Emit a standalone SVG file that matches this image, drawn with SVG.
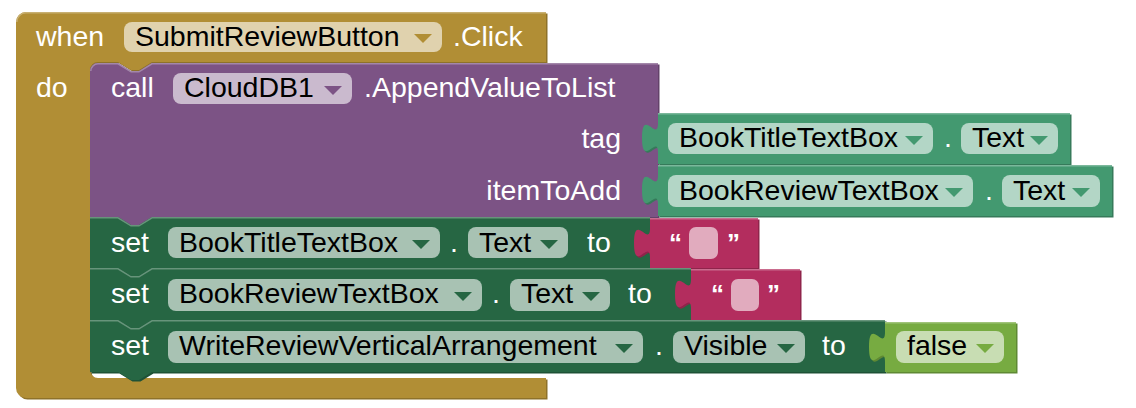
<svg xmlns="http://www.w3.org/2000/svg" width="1136" height="408" viewBox="0 0 1136 408">
  <style>
    text { font-family: "Liberation Sans", Arial, sans-serif; font-size: 28.5px; }
    .lbl { fill: #ffffff; }
    .ftx { fill: #000000; }
    .qt { font-weight: bold; font-size: 26px; }
    .fld { fill: #ffffff; fill-opacity: 0.6; }
    .hl { fill: none; stroke-width: 1.5; }
    .gold { fill: #B18E35; } .gold-d { fill: #8E722A; } .gold-l { stroke: #C8B072; }
    .purp { fill: #7C5385; } .purp-d { fill: #63426A; } .purp-l { stroke: #A387AA; }
    .setr { fill: #266643; } .setr-d { fill: #1E5236; } .setr-l { stroke: #67947B; }
    .getr { fill: #439970; } .getr-d { fill: #367A5A; } .getr-l { stroke: #7BB89B; }
    .txt { fill: #B32D5E; } .txt-d { fill: #8F244B; } .txt-l { stroke: #CA6C8E; }
    .logc { fill: #77AB41; } .logc-d { fill: #5F8934; } .logc-l { stroke: #A0C47A; }
    .end { text-anchor: end; }
  </style>
  <defs>
    <!-- block outlines, reused for the drop shadow and the body -->
    <path id="shape-event" d="M16,22 A10,10 0 0 1 26,12 H546 V62 H152 l-13,8 -8,0 -13,-8 H98 A8,8 0 0 0 90,70 V370 A8,8 0 0 0 98,378 H546 V398 H26 A10,10 0 0 1 16,388 Z"/>
    <path id="shape-call" d="M90,71 A8,8 0 0 1 98,63 H118 l13,8 8,0 13,-8 H658 V217 H152 l-13,8 -8,0 -13,-8 H90 Z"/>
    <path id="shape-get1" d="M1070,113 H658 V123 c0,20 -16,-16 -16,15 s16,-5 16,15 V164 H1070 Z"/>
    <path id="shape-get2" d="M1112,165 H658 V175 c0,20 -16,-16 -16,15 s16,-5 16,15 V216 H1112 Z"/>
    <path id="shape-set1" d="M90,217 H118 l13,8 8,0 13,-8 H650 V268 H152 l-13,8 -8,0 -13,-8 H90 Z"/>
    <path id="shape-set2" d="M90,268 H118 l13,8 8,0 13,-8 H691 V320 H152 l-13,8 -8,0 -13,-8 H90 Z"/>
    <path id="shape-set3" d="M90,320 H118 l13,8 8,0 13,-8 H885 V372 H152 l-13,8 -8,0 -13,-8 H90 Z"/>
    <path id="shape-text1" d="M758,218 H650 V228 c0,20 -16,-16 -16,15 s16,-5 16,15 V268 H758 Z"/>
    <path id="shape-text2" d="M800,269 H691 V279 c0,20 -16,-16 -16,15 s16,-5 16,15 V320 H800 Z"/>
    <path id="shape-false" d="M1016,322 H885 V332 c0,20 -16,-16 -16,15 s16,-5 16,15 V372 H1016 Z"/>
  </defs>

  <!-- when SubmitReviewButton.Click -->
  <g id="event-click">
    <use href="#shape-event" class="gold-d" transform="translate(1.5,1.5)"/>
    <use href="#shape-event" class="gold"/>
    <path class="hl gold-l" d="M16.8,22 A9.2,9.2 0 0 1 26,12.8 H546"/>
    <text class="lbl" x="36" y="46">when</text>
    <rect class="fld" x="124" y="22" width="318" height="30" rx="8"/>
    <text class="ftx" x="135" y="46">SubmitReviewButton</text>
    <polygon class="gold" points="414,34 432,34 423,43"/>
    <text class="lbl" x="453" y="46">.Click</text>
    <text class="lbl" x="36" y="97">do</text>
  </g>

  <!-- call CloudDB1.AppendValueToList -->
  <g id="call-append">
    <use href="#shape-call" class="purp-d" transform="translate(1.5,1.5)"/>
    <use href="#shape-call" class="purp"/>
    <path class="hl purp-l" d="M90.8,71 A7.2,7.2 0 0 1 98,63.8 H118 l13,8 8,0 13,-8 H658"/>
    <text class="lbl" x="111" y="97">call</text>
    <rect class="fld" x="173" y="73" width="179" height="31" rx="8"/>
    <text class="ftx" x="184" y="97">CloudDB1</text>
    <polygon class="purp" points="324,86 342,86 333,95"/>
    <text class="lbl" x="364" y="97">.AppendValueToList</text>
    <text class="lbl end" x="621" y="148">tag</text>
    <text class="lbl end" x="621" y="200">itemToAdd</text>
  </g>

  <!-- BookTitleTextBox.Text getter -->
  <g id="get-title-text">
    <use href="#shape-get1" class="getr-d" transform="translate(1.5,1.5)"/>
    <use href="#shape-get1" class="getr"/>
    <path class="hl getr-l" d="M658,113.8 H1070"/>
    <rect class="fld" x="668" y="123" width="265" height="31" rx="8"/>
    <text class="ftx" x="679" y="147">BookTitleTextBox</text>
    <polygon class="getr" points="905,136 923,136 914,145"/>
    <text class="lbl" x="944" y="147">.</text>
    <rect class="fld" x="961" y="123" width="97" height="31" rx="8"/>
    <text class="ftx" x="972" y="147">Text</text>
    <polygon class="getr" points="1030,136 1048,136 1039,145"/>
  </g>

  <!-- BookReviewTextBox.Text getter -->
  <g id="get-review-text">
    <use href="#shape-get2" class="getr-d" transform="translate(1.5,1.5)"/>
    <use href="#shape-get2" class="getr"/>
    <path class="hl getr-l" d="M658,165.8 H1112"/>
    <rect class="fld" x="668" y="175" width="305" height="32" rx="8"/>
    <text class="ftx" x="679" y="200">BookReviewTextBox</text>
    <polygon class="getr" points="945,188 963,188 954,197"/>
    <text class="lbl" x="985" y="200">.</text>
    <rect class="fld" x="1002" y="175" width="98" height="32" rx="8"/>
    <text class="ftx" x="1013" y="200">Text</text>
    <polygon class="getr" points="1072,188 1090,188 1081,197"/>
  </g>

  <!-- set BookTitleTextBox.Text to "" -->
  <g id="set-title-text">
    <use href="#shape-set1" class="setr-d" transform="translate(1.5,1.5)"/>
    <use href="#shape-set1" class="setr"/>
    <path class="hl setr-l" d="M90,217.8 H118 l13,8 8,0 13,-8 H650"/>
    <text class="lbl" x="111" y="252">set</text>
    <rect class="fld" x="168" y="227" width="272" height="31" rx="8"/>
    <text class="ftx" x="179" y="252">BookTitleTextBox</text>
    <polygon class="setr" points="412,240 430,240 421,249"/>
    <text class="lbl" x="450" y="252">.</text>
    <rect class="fld" x="468" y="227" width="100" height="31" rx="8"/>
    <text class="ftx" x="479" y="252">Text</text>
    <polygon class="setr" points="540,240 558,240 549,249"/>
    <text class="lbl" x="587" y="252">to</text>
  </g>
  <g id="text-empty-1">
    <use href="#shape-text1" class="txt-d" transform="translate(1.5,1.5)"/>
    <use href="#shape-text1" class="txt"/>
    <path class="hl txt-l" d="M650,218.8 H758"/>
    <text class="lbl qt" x="669" y="252">“</text>
    <rect class="fld" x="689" y="227" width="29" height="32" rx="7"/>
    <text class="lbl qt" x="727" y="252">”</text>
  </g>

  <!-- set BookReviewTextBox.Text to "" -->
  <g id="set-review-text">
    <use href="#shape-set2" class="setr-d" transform="translate(1.5,1.5)"/>
    <use href="#shape-set2" class="setr"/>
    <path class="hl setr-l" d="M90,268.8 H118 l13,8 8,0 13,-8 H691"/>
    <text class="lbl" x="111" y="303">set</text>
    <rect class="fld" x="168" y="279" width="314" height="32" rx="8"/>
    <text class="ftx" x="179" y="303">BookReviewTextBox</text>
    <polygon class="setr" points="454,292 472,292 463,301"/>
    <text class="lbl" x="492" y="303">.</text>
    <rect class="fld" x="510" y="279" width="100" height="32" rx="8"/>
    <text class="ftx" x="521" y="303">Text</text>
    <polygon class="setr" points="582,292 600,292 591,301"/>
    <text class="lbl" x="628" y="303">to</text>
  </g>
  <g id="text-empty-2">
    <use href="#shape-text2" class="txt-d" transform="translate(1.5,1.5)"/>
    <use href="#shape-text2" class="txt"/>
    <path class="hl txt-l" d="M691,269.8 H800"/>
    <text class="lbl qt" x="711" y="303">“</text>
    <rect class="fld" x="731" y="279" width="28" height="32" rx="7"/>
    <text class="lbl qt" x="767" y="303">”</text>
  </g>

  <!-- set WriteReviewVerticalArrangement.Visible to false -->
  <g id="set-arrangement-visible">
    <use href="#shape-set3" class="setr-d" transform="translate(1.5,1.5)"/>
    <use href="#shape-set3" class="setr"/>
    <path class="hl setr-l" d="M90,320.8 H118 l13,8 8,0 13,-8 H885"/>
    <text class="lbl" x="111" y="355">set</text>
    <rect class="fld" x="168" y="331" width="475" height="32" rx="8"/>
    <text class="ftx" x="179" y="355">WriteReviewVerticalArrangement</text>
    <polygon class="setr" points="615,344 633,344 624,353"/>
    <text class="lbl" x="655" y="355">.</text>
    <rect class="fld" x="673" y="331" width="132" height="32" rx="8"/>
    <text class="ftx" x="684" y="355">Visible</text>
    <polygon class="setr" points="777,344 795,344 786,353"/>
    <text class="lbl" x="822" y="355">to</text>
  </g>
  <g id="logic-false">
    <use href="#shape-false" class="logc-d" transform="translate(1.5,1.5)"/>
    <use href="#shape-false" class="logc"/>
    <path class="hl logc-l" d="M885,322.8 H1016"/>
    <rect class="fld" x="896" y="331" width="108" height="32" rx="8"/>
    <text class="ftx" x="907" y="355">false</text>
    <polygon class="logc" points="976,344 994,344 985,353"/>
  </g>
</svg>
